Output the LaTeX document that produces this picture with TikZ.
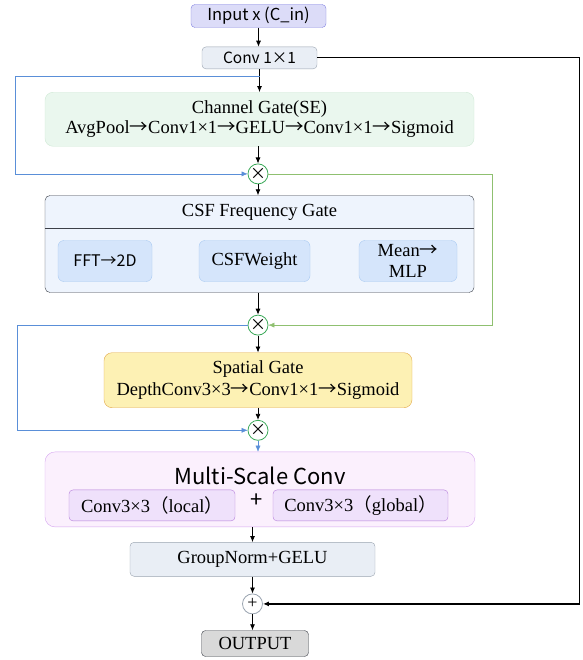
\documentclass[tikz,border=0pt]{standalone}
\usepackage{fontspec}
\setmainfont{Liberation Serif}
\newfontfamily\cjk{Noto Sans CJK SC}
\usepackage{tikz}
\usetikzlibrary{shapes,arrows,arrows.meta,positioning}

\definecolor{infill}{HTML}{DCDCF8}
\definecolor{inedge}{HTML}{8080E0}
\definecolor{convfill}{HTML}{E9EEF5}
\definecolor{convedge}{HTML}{9AA4B0}
\definecolor{sefill}{HTML}{EAF7EE}
\definecolor{seedge}{HTML}{CFE9D5}
\definecolor{csffill}{HTML}{EEF4FD}
\definecolor{csfedge}{HTML}{3C4048}
\definecolor{subfill}{HTML}{D5E5FB}
\definecolor{subedge}{HTML}{A9CAF2}
\definecolor{spfill}{HTML}{FDF1B4}
\definecolor{spedge}{HTML}{E2A84A}
\definecolor{msfill}{HTML}{FBF0FD}
\definecolor{msedge}{HTML}{D6A6F0}
\definecolor{mssubfill}{HTML}{EFE1FB}
\definecolor{mssubedge}{HTML}{B57FDB}
\definecolor{opgreen}{HTML}{3CAA5A}
\definecolor{skipblue}{HTML}{5A8FD8}
\definecolor{skipgreen}{HTML}{8FC070}

% long arrow for the serif labels
\newcommand{\ra}{{\cjk →}}

\begin{document}
\begin{tikzpicture}[
    node distance=20pt,
    io/.style={rectangle, draw=inedge, fill=infill, rounded corners=4pt, minimum width=135pt, minimum height=23pt, inner sep=0pt, font=\cjk\fontsize{16.5}{18}\selectfont},
    process/.style={rectangle, draw=convedge, fill=convfill, rounded corners=4pt, minimum width=115pt, minimum height=22pt, inner sep=0pt, font=\cjk\fontsize{15.5}{17}\selectfont},
    segate/.style={rectangle, draw=seedge, fill=sefill, rounded corners=8pt, minimum width=429pt, minimum height=54pt, inner sep=0pt, align=center, font=\fontsize{18.5}{20}\selectfont},
    csfgate/.style={rectangle, draw=csfedge, fill=csffill, rounded corners=5pt, minimum width=429pt, minimum height=97pt, inner sep=0pt},
    sub/.style={rectangle, draw=subedge, fill=subfill, rounded corners=6pt, minimum height=41pt, inner sep=0pt, align=center, font=\fontsize{18.5}{21}\selectfont},
    spgate/.style={rectangle, draw=spedge, fill=spfill, rounded corners=8pt, minimum width=308pt, minimum height=55pt, inner sep=0pt, align=center, font=\fontsize{18.5}{22}\selectfont},
    msconv/.style={rectangle, draw=msedge, fill=msfill, rounded corners=10pt, minimum width=430pt, minimum height=75pt, inner sep=0pt},
    mssub/.style={rectangle, draw=mssubedge, fill=mssubfill, rounded corners=4pt, minimum height=31pt, inner sep=0pt, font=\fontsize{18.5}{20}\selectfont},
    norm/.style={rectangle, draw=convedge, fill=convfill, rounded corners=4pt, minimum width=245pt, minimum height=34pt, inner sep=0pt, font=\fontsize{18.5}{20}\selectfont},
    output/.style={rectangle, draw=csfedge, fill=black!15, rounded corners=4pt, minimum width=107pt, minimum height=26pt, inner sep=0pt, font=\fontsize{18.5}{20}\selectfont},
    mul/.style={circle, draw=opgreen, fill=white, thick, minimum size=20pt, inner sep=0pt, font=\cjk\fontsize{16}{16}\selectfont},
    add/.style={circle, draw=convedge, fill=white, thick, minimum size=20pt, inner sep=0pt, font=\fontsize{18}{18}\selectfont},
    arrow/.style={-{Latex[length=6pt,width=5pt]}, thick},
    skip/.style={-{Latex[length=6pt,width=5pt]}, draw=skipblue}
]
\useasboundingbox (0,0) rectangle (582pt,-660pt);

% Input and stem
\node[io] (input) at (258.5pt,-16pt) {Input x (C\_in)};
\node[process, below=19pt of input.south, anchor=north, xshift=1pt] (conv) {Conv 1×1};

% Channel gate
\node[segate, below=23pt of conv] (se) {Channel Gate(SE)\\AvgPool\ra Conv1×1\ra GELU\ra Conv1×1\ra Sigmoid};
\node[mul, below=17pt of se, xshift=-1.5pt] (mul1) {×};

% CSF frequency gate
\node[csfgate, below=11pt of mul1, xshift=1.5pt] (csf) {};
\node[font=\fontsize{18.5}{20}\selectfont] (csftitle) at ([yshift=-17pt]csf.north) {CSF Frequency Gate};
\draw[csfedge] ([yshift=-33pt]csf.north west) -- ([yshift=-33pt]csf.north east);
\node[sub, anchor=west, minimum width=94pt, font=\cjk\fontsize{16}{18}\selectfont] (fft) at ([xshift=13pt,yshift=-17pt]csf.west) {FFT→2D};
\node[sub, anchor=west, minimum width=111pt] (csfw) at ([xshift=154pt,yshift=-17pt]csf.west) {CSFWeight};
\node[sub, anchor=east, minimum width=98pt] (mlp) at ([xshift=-17pt,yshift=-17pt]csf.east) {Mean\ra\\MLP};
\node[mul, below=22pt of csf, xshift=-1.5pt] (mul2) {×};

% Spatial gate
\node[spgate, below=17pt of mul2] (sp) {Spatial Gate\\DepthConv3×3\ra Conv1×1\ra Sigmoid};
\node[mul, below=12pt of sp] (mul3) {×};

% Multi-scale conv
\node[msconv, below=11pt of mul3, xshift=2pt] (ms) {};
\node[font=\cjk\fontsize{22}{24}\selectfont] (mstitle) at ([yshift=-24pt]ms.north) {Multi-Scale Conv};
\node[mssub, anchor=west, minimum width=166pt] (local) at ([xshift=24pt,yshift=-16pt]ms.west) {Conv3×3{\cjk（}local{\cjk）}};
\node[mssub, anchor=east, minimum width=175pt] (global) at ([xshift=-27pt,yshift=-16pt]ms.east) {Conv3×3{\cjk（}global{\cjk）}};
\node[font=\cjk\fontsize{22}{22}\selectfont] (plus) at ([xshift=-3pt,yshift=-11.5pt]ms.center) {+};

% Tail
\node[norm, below=15pt of ms, xshift=-7.5pt] (gn) {GroupNorm+GELU};
\node[add, below=17pt of gn] (res) {+};
\node[output, below=16pt of res, xshift=2.5pt] (out) {OUTPUT};

% Main flow
\draw[arrow] (input) -- (conv.north -| input);
\draw[arrow] (conv) -- (se);
\draw[arrow] (se.south -| mul1) -- (mul1);
\draw[arrow] (mul1) -- (csf.north -| mul1);
\draw[arrow] (csf.south -| mul2) -- (mul2);
\draw[arrow] (mul2) -- (sp);
\draw[arrow] (sp) -- (mul3);
\draw[skip] (mul3) -- (ms.north -| mul3);
\draw[arrow] (ms.south -| gn) -- (gn);
\draw[arrow] (gn) -- (res);
\draw[arrow] (res) -- (out.north -| res);

% Skip paths into the gates
\coordinate (split1) at ([yshift=-7pt]conv.south);
\draw[skip] (split1) -- ++(-244pt,0) |- (mul1.west);
\draw[-{Latex[length=6pt,width=5pt]}, draw=skipgreen] (mul1.east) -- ++(224pt,0) |- (mul2.east);
\draw[skip] (mul2.west) -- ++(-230pt,0) |- (mul3.west);

% Residual
\draw[-{Latex[length=6pt,width=5pt]}, line width=1.2pt] (conv.east) -- ++(262pt,0) |- (res.east);

\end{tikzpicture}
\end{document}
